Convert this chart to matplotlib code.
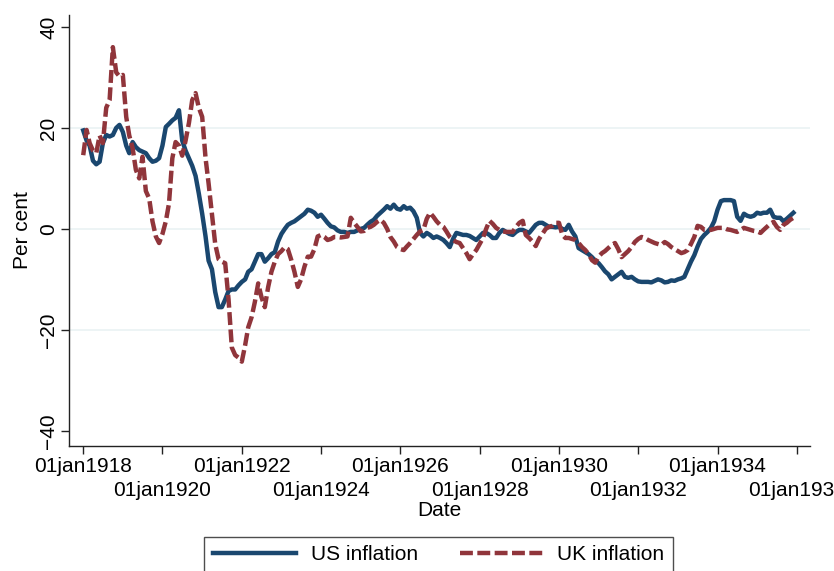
"""US vs UK inflation, 1918-1935 (monthly)."""

import numpy as np
import matplotlib
matplotlib.use("Agg")
import matplotlib.pyplot as plt

plt.rcParams["font.family"] = ["Liberation Sans", "DejaVu Sans"]

# Monthly observations, Jan 1918 .. Dec 1935 (12 values per row = one year).
months = np.arange("1918-01", "1936-01", dtype="datetime64[M]")

us_inflation = [
    19.5, 17.5, 16.5, 13.5, 12.8, 13.3, 17.0, 18.6, 18.3, 18.6, 20.0, 20.6,
    19.2, 16.5, 15.0, 17.2, 16.2, 15.6, 15.3, 15.0, 14.0, 13.3, 13.5, 14.0,
    16.5, 20.2, 20.8, 21.5, 22.0, 23.5, 17.5, 15.5, 14.0, 12.5, 10.5, 7.0,
    3.0, -1.5, -6.3, -8.0, -12.5, -15.5, -15.5, -14.0, -12.3, -12.0, -12.0, -11.2,
    -10.5, -10.0, -8.5, -8.0, -6.5, -5.0, -5.0, -6.5, -5.8, -5.0, -4.6, -2.5,
    -1.0, 0.0, 0.8, 1.2, 1.5, 2.0, 2.5, 3.0, 3.8, 3.6, 3.2, 2.4,
    2.8, 2.0, 1.2, 0.5, 0.3, -0.3, -0.6, -0.6, -0.8, -0.6, -0.6, -0.3,
    0.0, 0.2, 0.8, 1.4, 1.8, 2.6, 3.2, 3.8, 4.5, 4.0, 4.8, 4.0,
    3.8, 4.5, 4.0, 4.2, 3.5, 2.2, -0.8, -1.5, -0.8, -1.2, -1.8, -1.5,
    -1.8, -2.2, -2.8, -3.6, -2.0, -0.8, -1.0, -1.2, -1.2, -1.4, -1.8, -2.2,
    -1.5, -0.8, -0.8, -1.2, -1.8, -1.8, -0.8, -0.2, -0.6, -1.0, -1.2, -0.6,
    -0.2, -0.2, -0.5, -0.8, 0.0, 0.8, 1.2, 1.2, 0.8, 0.4, 0.4, 0.3,
    0.4, 0.0, -0.2, 0.8, -0.5, -1.5, -3.8, -4.2, -4.6, -5.0, -5.6, -6.3,
    -6.8, -7.6, -8.4, -9.0, -10.0, -9.5, -9.0, -8.5, -9.5, -9.7, -9.5, -10.0,
    -10.4, -10.5, -10.5, -10.5, -10.6, -10.3, -10.0, -10.2, -10.6, -10.5, -10.2, -10.3,
    -10.0, -9.8, -9.5, -8.0, -6.5, -5.2, -3.5, -2.0, -1.2, -0.6, 0.2, 1.5,
    3.8, 5.5, 5.7, 5.7, 5.7, 5.5, 2.4, 1.6, 3.0, 2.6, 2.4, 2.6,
    3.2, 3.0, 3.2, 3.2, 3.8, 2.4, 2.2, 2.2, 1.5, 2.0, 2.6, 3.2,
]

uk_inflation = [
    14.6, 19.6, 17.0, 15.5, 15.0, 18.5, 17.0, 24.0, 25.5, 36.0, 31.0, 30.2,
    30.5, 22.2, 18.5, 16.0, 11.7, 10.0, 14.3, 7.5, 6.0, 1.5, -1.5, -2.8,
    -1.0, 1.5, 5.0, 14.0, 17.2, 16.5, 14.5, 17.5, 21.0, 25.5, 26.9, 24.0,
    22.2, 14.0, 9.0, 3.0, -3.0, -6.0, -6.5, -6.8, -14.0, -23.5, -25.0, -25.5,
    -26.3, -23.0, -19.5, -17.5, -14.5, -10.8, -13.5, -15.5, -11.5, -8.5, -6.5, -5.0,
    -4.4, -3.6, -4.0, -6.1, -8.5, -11.5, -10.0, -7.5, -5.5, -5.5, -4.0, -1.5,
    -1.2, -1.6, -2.2, -2.0, -1.6, -1.6, -1.7, -1.6, -1.5, 2.2, 1.2, 0.4,
    -0.5, -0.4, 0.2, 0.4, 0.8, 1.4, 1.8, 1.2, 0.0, -1.6, -2.5, -3.6,
    -4.0, -4.2, -3.5, -2.8, -2.0, -1.2, -0.5, -0.2, 2.0, 3.2, 2.4, 1.5,
    0.8, 0.4, -0.5, -1.6, -2.2, -2.6, -2.8, -3.8, -4.8, -6.0, -5.0, -4.2,
    -3.0, -1.8, 0.0, 1.6, 1.0, 0.2, -0.2, -0.5, -0.6, -0.6, -0.6, 0.4,
    1.2, 1.6, -1.2, -1.8, -2.5, -3.4, -2.0, -1.0, 0.0, 0.4, 0.6, 1.2,
    1.2, -1.2, -1.8, -1.8, -2.0, -2.2, -2.8, -3.6, -4.2, -5.0, -6.2, -6.7,
    -5.5, -4.8, -4.4, -3.8, -3.2, -2.8, -4.0, -5.6, -5.0, -4.4, -3.6, -2.6,
    -2.0, -1.6, -1.8, -2.2, -2.5, -2.8, -3.0, -3.2, -2.6, -3.0, -3.6, -4.0,
    -4.4, -4.8, -4.6, -4.2, -3.0, -1.6, 0.6, 0.4, -0.2, -0.2, -0.2, 0.0,
    0.2, 0.2, 0.2, -0.1, -0.2, -0.4, -0.6, -0.2, 0.2, 0.0, -0.2, -0.4,
    -0.5, -0.8, -0.2, 0.4, 1.0, 1.4, 0.4, -0.2, 0.8, 1.2, 1.8, 2.2,
]

upper_years = [1918, 1922, 1926, 1930, 1934]
lower_years = [1920, 1924, 1928, 1932, 1936]
y_ticks = [-40, -20, 0, 20, 40]

navy = "#1a476f"
maroon = "#90353b"

figure = plt.figure(figsize=(8.34, 5.71), dpi=100)
axis = figure.add_axes([0.083, 0.219, 0.888, 0.755])

for level in (-20, 0, 20):
    axis.axhline(level, color="#eaf2f3", linewidth=1.2, zorder=0)

axis.plot(months, us_inflation, color=navy, linewidth=3.2, label="US inflation",
          solid_joinstyle="round")
axis.plot(months, uk_inflation, color=maroon, linewidth=3.2, label="UK inflation",
          dashes=(2.9, 1.0))

# Format: Stata-style staggered date labels (major = top row, minor = bottom row).
axis.set_xticks([np.datetime64(f"{y}-01-01") for y in upper_years])
axis.set_xticklabels([f"01jan{y}" for y in upper_years], fontsize=15)
axis.set_xticks([np.datetime64(f"{y}-01-01") for y in lower_years], minor=True)
axis.set_xticklabels([f"01jan{y}" for y in lower_years], minor=True, fontsize=15)
axis.set_xlim(np.datetime64("1917-08-25"), np.datetime64("1936-04-30"))

axis.set_yticks(y_ticks)
axis.set_yticklabels([str(v).replace("-", "\u2212") for v in y_ticks],
                     rotation=90, va="center", fontsize=15)
axis.set_ylim(-43, 42.4)

axis.set_xlabel("Date", fontsize=15, labelpad=1)
axis.set_ylabel("Per cent", fontsize=15, labelpad=5)

for side in ("top", "right"):
    axis.spines[side].set_visible(False)
for side in ("left", "bottom"):
    axis.spines[side].set_color("#222222")
    axis.spines[side].set_linewidth(1.0)
axis.tick_params(which="both", length=6, width=1, color="#222222", pad=2)
axis.tick_params(axis="x", which="minor", pad=19)

legend = figure.legend(
    loc="upper center",
    bbox_to_anchor=(0.526, 0.0595),
    borderaxespad=0,
    ncol=2,
    fontsize=15,
    frameon=True,
    fancybox=False,
    edgecolor="#222222",
    handlelength=4.0,
    handletextpad=0.7,
    columnspacing=2.0,
    borderpad=0.4,
)
legend.get_frame().set_linewidth(1.0)

figure.savefig("out.png", dpi=100)
